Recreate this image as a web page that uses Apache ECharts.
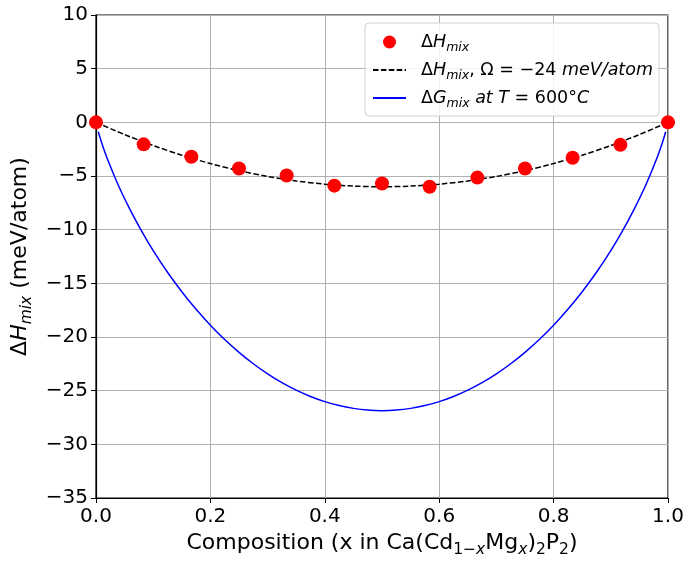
<!DOCTYPE html>
<html>
<head>
<meta charset="utf-8">
<script src="https://cdn.jsdelivr.net/npm/echarts@6/dist/echarts.min.js"></script>
<style>
  html, body { margin: 0; padding: 0; background: #fff; }
  #chart { width: 685px; height: 561px; }
</style>
</head>
<body>
<div id="chart"></div>
<script>
// Computed mixing enthalpies (meV/atom) at each Mg fraction x
const calcX = [0, 0.0833, 0.1667, 0.25, 0.3333, 0.4167, 0.5, 0.5833, 0.6667, 0.75, 0.8333, 0.9167, 1];
const calcH = [0, -2.05, -3.2, -4.3, -4.95, -5.9, -5.7, -6.0, -5.15, -4.3, -3.3, -2.1, 0];

// Regular-solution fit, Omega = -24 meV/atom
const fitX = [0, 0.05, 0.1, 0.15, 0.2, 0.25, 0.3, 0.35, 0.4, 0.45, 0.5, 0.55, 0.6, 0.65, 0.7, 0.75, 0.8, 0.85, 0.9, 0.95, 1];
const fitH = [0, -1.14, -2.16, -3.06, -3.84, -4.5, -5.04, -5.46, -5.76, -5.94, -6.0, -5.94, -5.76, -5.46, -5.04, -4.5, -3.84, -3.06, -2.16, -1.14, 0];

// Free energy of mixing at 600 °C
const gX = [0.004, 0.01, 0.02, 0.04, 0.06, 0.08, 0.1, 0.125, 0.15, 0.175, 0.2, 0.225, 0.25, 0.275, 0.3, 0.325, 0.35, 0.375, 0.4, 0.425, 0.45, 0.475, 0.5,
            0.525, 0.55, 0.575, 0.6, 0.625, 0.65, 0.675, 0.7, 0.725, 0.75, 0.775, 0.8, 0.825, 0.85, 0.875, 0.9, 0.92, 0.94, 0.96, 0.98, 0.99, 0.996];
const gVal = [-0.88, -1.92, -3.42, -5.98, -8.18, -10.16, -11.95, -13.97, -15.78, -17.42, -18.9, -20.24, -21.43, -22.49, -23.43, -24.25, -24.95, -25.54, -26.02, -26.39, -26.65, -26.81, -26.86,
              -26.81, -26.65, -26.39, -26.02, -25.54, -24.95, -24.25, -23.43, -22.49, -21.43, -20.24, -18.9, -17.42, -15.78, -13.97, -11.95, -10.16, -8.18, -5.98, -3.42, -1.92, -0.88];

const xTicks = { min: 0, max: 1, step: 0.2 };
const yTicks = { min: -35, max: 10, step: 5 };

const FONT = 'DejaVu Sans';
const FS = 20;      // tick labels
const TFS = 22;     // axis titles
const TSUB = 15.5;  // axis title subscripts

const pairs = (xs, ys) => xs.map((x, i) => [x, ys[i]]);
const minusFmt = v => String(v).replace('-', '\u2212');

const titleRich = {
  n: { fontFamily: FONT, fontSize: TFS, color: '#000', lineHeight: 30, verticalAlign: 'middle' },
  it: { fontFamily: FONT, fontSize: TFS, fontStyle: 'italic', color: '#000', lineHeight: 30, verticalAlign: 'middle' },
  sb: { fontFamily: FONT, fontSize: TSUB, color: '#000', lineHeight: 30, verticalAlign: 'bottom' },
  sbi: { fontFamily: FONT, fontSize: TSUB, fontStyle: 'italic', color: '#000', lineHeight: 30, verticalAlign: 'bottom' }
};
const legendRich = {
  n: { fontFamily: FONT, fontSize: 17.5, color: '#000', lineHeight: 24, verticalAlign: 'middle' },
  it: { fontFamily: FONT, fontSize: 17.5, fontStyle: 'italic', color: '#000', lineHeight: 24, verticalAlign: 'middle' },
  sb: { fontFamily: FONT, fontSize: 12.5, fontStyle: 'italic', color: '#000', lineHeight: 24, verticalAlign: 'bottom' }
};

const names = {
  calc: 'calc',
  fit: 'fit',
  gmix: 'gmix'
};
const legendText = {
  calc: '{n|\u0394}{it|H}{sb|mix}',
  fit: '{n|\u0394}{it|H}{sb|mix}{n|, \u03A9 = \u221224 }{it|meV/atom}',
  gmix: '{n|\u0394}{it|G}{sb|mix}{it| at T}{n| = 600°}{it|C}'
};

const chart = echarts.init(document.getElementById('chart'), null, { renderer: 'canvas' });
chart.setOption({
  animation: false,
  backgroundColor: '#fff',
  grid: {
    left: 96, right: 17, top: 15, bottom: 63,
    containLabel: false, outerBoundsMode: 'none',
    show: true, borderColor: '#000', borderWidth: 1.2, backgroundColor: 'transparent'
  },
  legend: {
    orient: 'vertical',
    left: 365, top: 23,
    padding: [10, 6, 6, 7],
    itemGap: 7,
    itemWidth: 33, itemHeight: 13,
    backgroundColor: 'rgba(255,255,255,0.85)',
    borderColor: '#d0d0d0', borderWidth: 1, borderRadius: 4,
    data: [
      { name: names.calc },
      { name: names.fit, itemStyle: { opacity: 0 } },
      { name: names.gmix, itemStyle: { opacity: 0 } }
    ],
    formatter: n => legendText[n],
    textStyle: { rich: legendRich, padding: [0, 6, 0, 10] }
  },
  xAxis: {
    type: 'value',
    min: xTicks.min, max: xTicks.max, interval: xTicks.step,
    name: '{n|Composition (x in Ca(Cd}{sb|1\u2212}{sbi|x}{n|Mg}{sbi|x}{n|)}{sb|2}{n|P}{sb|2}{n|)}',
    nameLocation: 'middle', nameGap: 29,
    nameTextStyle: { rich: titleRich },
    axisLine: { show: true, onZero: false, lineStyle: { color: '#000', width: 1.2 } },
    axisTick: { show: true, length: 5, lineStyle: { color: '#000' } },
    axisLabel: { fontFamily: FONT, fontSize: FS, color: '#000', margin: 9, formatter: v => v.toFixed(1) },
    splitLine: { show: true, lineStyle: { color: '#b0b0b0', width: 1 } }
  },
  yAxis: {
    type: 'value',
    min: yTicks.min, max: yTicks.max, interval: yTicks.step,
    name: '{n|\u0394}{it|H}{sbi|mix}{n| (meV/atom)}',
    nameLocation: 'middle', nameGap: 57, nameRotate: 90,
    nameTextStyle: { rich: titleRich },
    axisLine: { show: true, onZero: false, lineStyle: { color: '#000', width: 1.2 } },
    axisTick: { show: true, length: 5, lineStyle: { color: '#000' } },
    axisLabel: { fontFamily: FONT, fontSize: FS, color: '#000', margin: 8, formatter: minusFmt },
    splitLine: { show: true, lineStyle: { color: '#b0b0b0', width: 1 } }
  },
  series: [
    {
      name: names.calc, type: 'scatter', z: 5,
      data: pairs(calcX, calcH),
      symbol: 'circle', symbolSize: 14,
      itemStyle: { color: '#ff0000', opacity: 1 }
    },
    {
      name: names.fit, type: 'line', z: 3,
      data: pairs(fitX, fitH), smooth: 0.3,
      showSymbol: false, symbol: 'none',
      lineStyle: { color: '#000', width: 1.5, type: [5.5, 2.4] },
      itemStyle: { color: '#000' }
    },
    {
      name: names.gmix, type: 'line', z: 2,
      data: pairs(gX, gVal), smooth: 0.3,
      showSymbol: false, symbol: 'none',
      lineStyle: { color: '#0000ff', width: 1.5 },
      itemStyle: { color: '#0000ff' }
    }
  ]
});
</script>
</body>
</html>
